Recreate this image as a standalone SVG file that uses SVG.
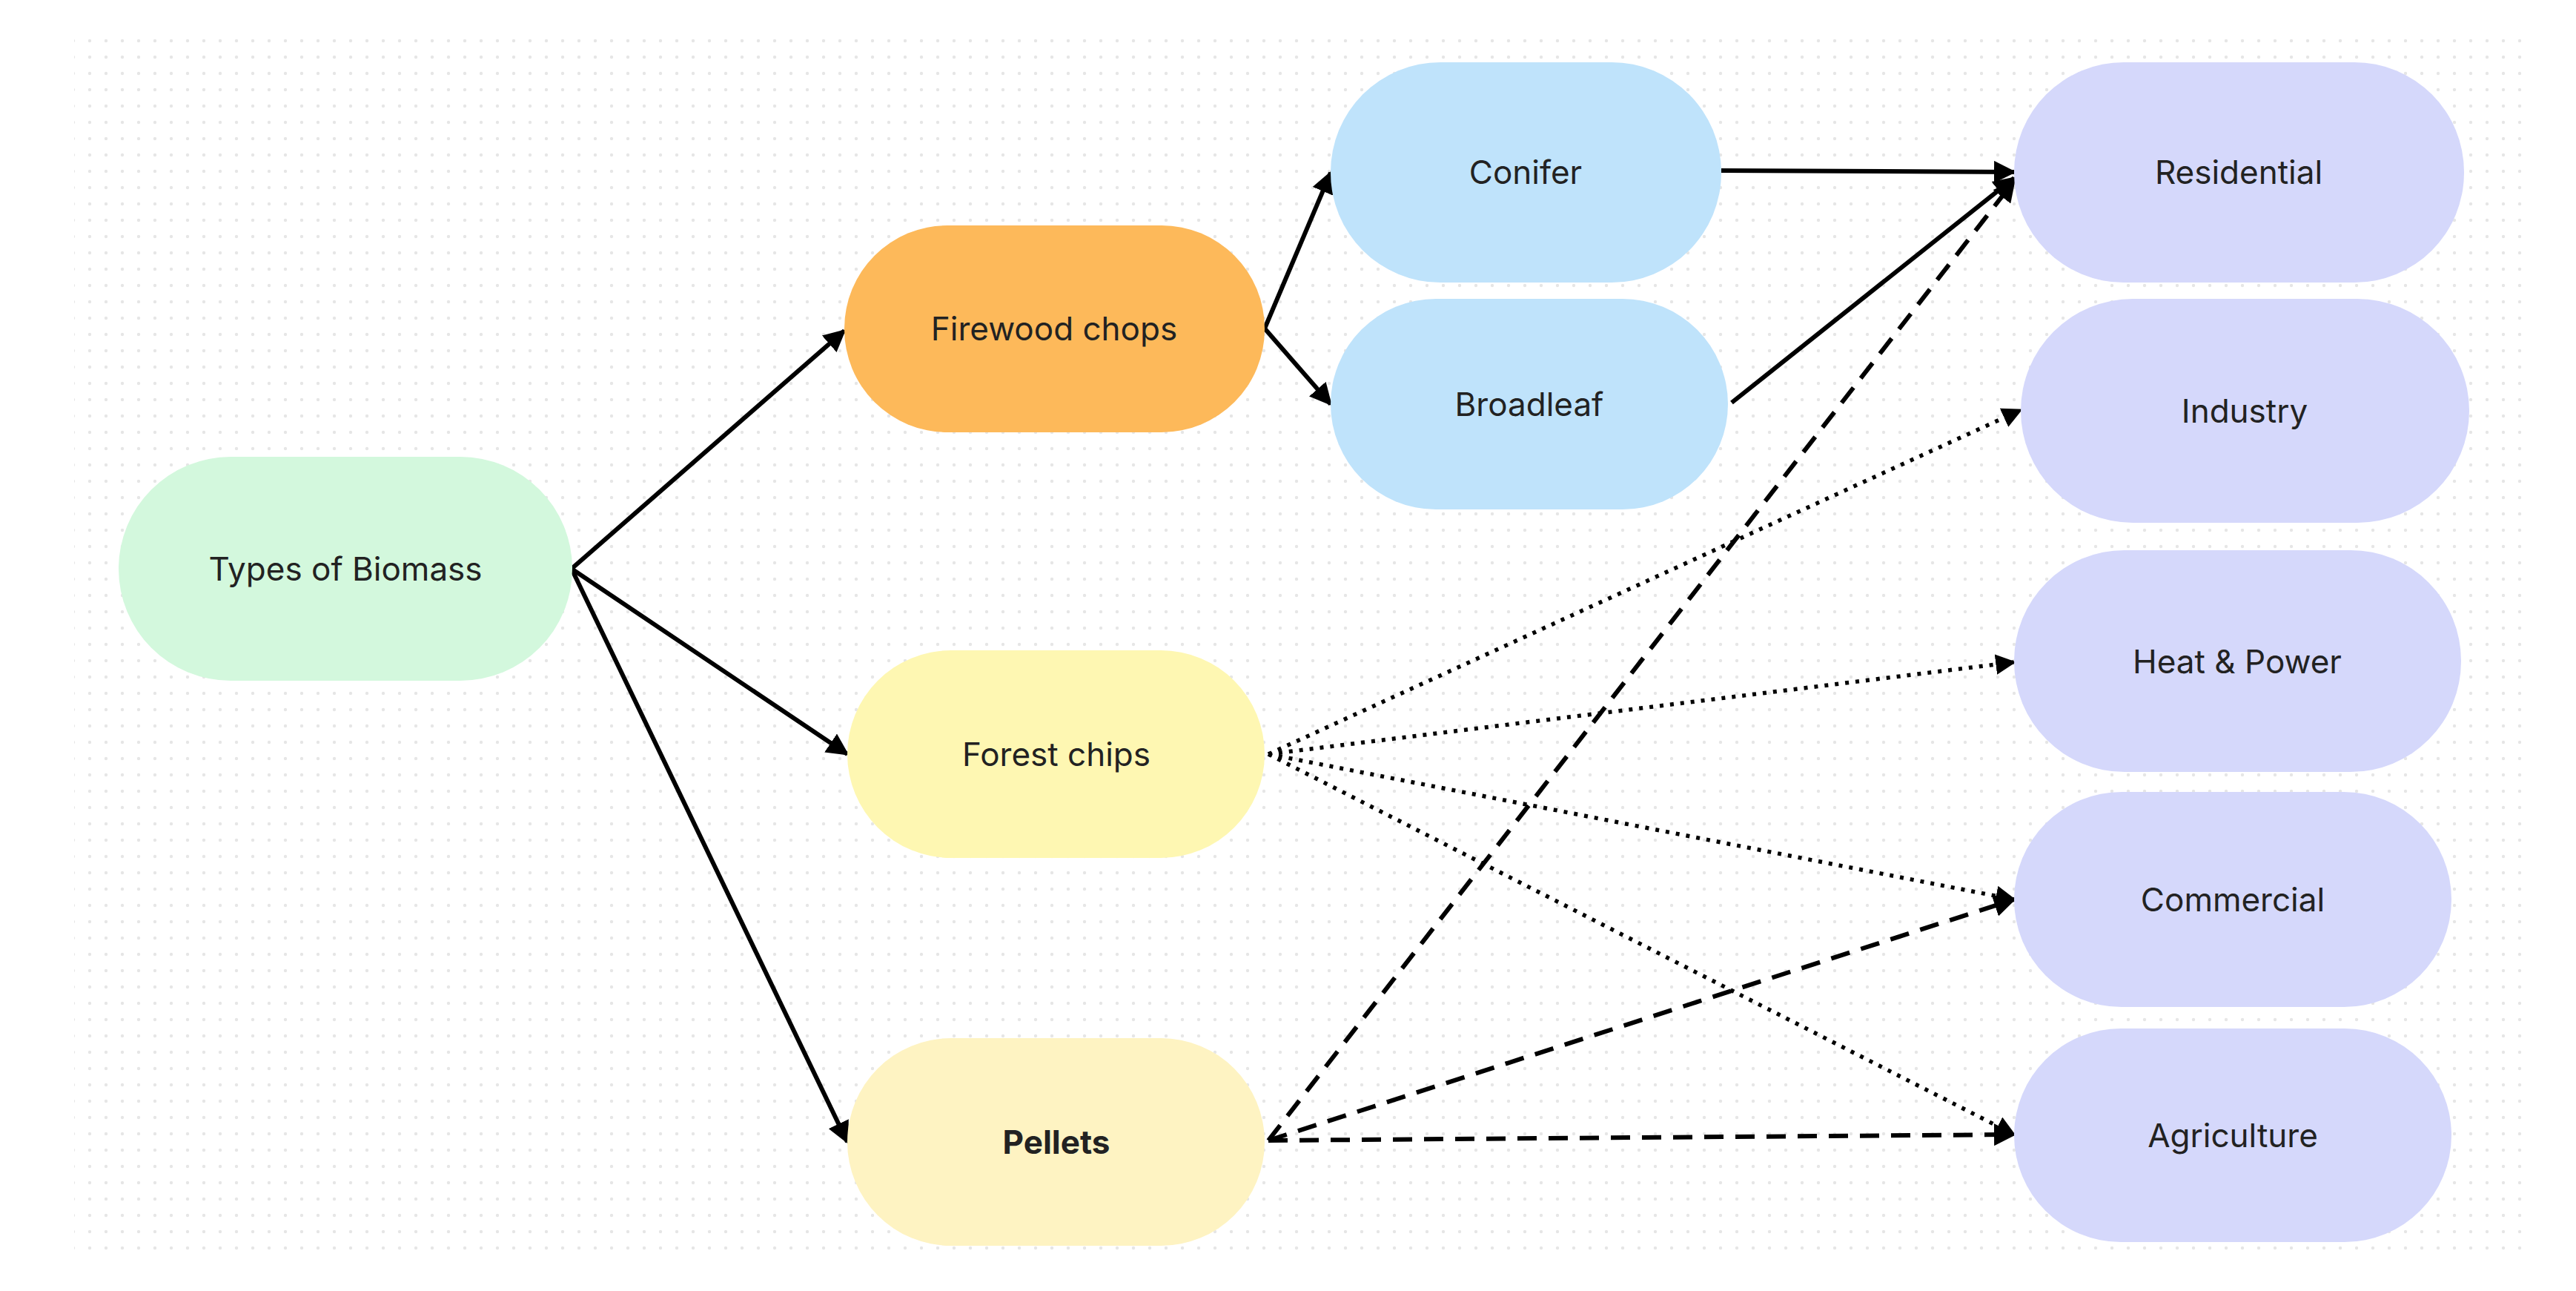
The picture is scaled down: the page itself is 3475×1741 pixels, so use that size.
<svg xmlns="http://www.w3.org/2000/svg" width="3475" height="1741" viewBox="0 0 3475 1741">
<defs>
<pattern id="dots" width="22" height="22" patternUnits="userSpaceOnUse"><circle cx="11" cy="11" r="2.2" fill="#e6e6e6"/></pattern>
<marker id="ah" viewBox="0 0 10 10" refX="9" refY="5" markerWidth="5" markerHeight="5" orient="auto" markerUnits="strokeWidth"><path d="M0,0 L10,5 L0,10 z" fill="#000"/></marker>
<style>
.n text{font-family:Inter,"Liberation Sans",sans-serif;font-size:44px;fill:#222;text-anchor:middle;dominant-baseline:central}
.e{stroke:#000;stroke-width:6;fill:none;marker-end:url(#ah)}
.dash{stroke-dasharray:26 16}
.dot{stroke-dasharray:5 9;stroke-width:5.5}
</style>
</defs>
<rect width="3475" height="1741" fill="#fff"/>
<rect x="100" y="49" width="3302" height="1646" fill="url(#dots)"/>
<g id="connectors">
<line class="e" x1="771" y1="767" x2="1139" y2="446"/>
<line class="e" x1="771" y1="767" x2="1143" y2="1017"/>
<line class="e" x1="771" y1="767" x2="1143" y2="1540"/>
<line class="e" x1="1706" y1="443" x2="1795" y2="233"/>
<line class="e" x1="1706" y1="443" x2="1795" y2="545"/>
<line class="e" x1="2322" y1="230" x2="2717" y2="232"/>
<line class="e" x1="2336" y1="543" x2="2717" y2="240"/>
<line class="e dash" x1="1711" y1="1538" x2="2717" y2="244"/>
<line class="e dash" x1="1711" y1="1538" x2="2717" y2="1213"/>
<line class="e dash" x1="1711" y1="1538" x2="2717" y2="1530"/>
<line class="e dot" x1="1711" y1="1017" x2="2726" y2="553"/>
<line class="e dot" x1="1711" y1="1017" x2="2717" y2="893"/>
<line class="e dot" x1="1711" y1="1017" x2="2717" y2="1213"/>
<line class="e dot" x1="1711" y1="1017" x2="2717" y2="1530"/>
</g>
<g id="types" class="n"><rect x="160" y="616" width="612" height="302" rx="151" fill="#d3f8dd"/><text x="466" y="767">Types of Biomass</text></g>
<g id="firewood" class="n"><rect x="1139" y="304" width="567" height="279" rx="139" fill="#fdb95a"/><text x="1422" y="443">Firewood chops</text></g>
<g id="forest" class="n"><rect x="1143" y="877" width="563" height="280" rx="140" fill="#fef7b2"/><text x="1425" y="1017">Forest chips</text></g>
<g id="pellets" class="n"><rect x="1143" y="1400" width="563" height="280" rx="140" fill="#fef3c2"/><text x="1425" y="1540" font-weight="bold">Pellets</text></g>
<g id="conifer" class="n"><rect x="1795" y="84" width="527" height="297" rx="148" fill="#bfe3fb"/><text x="2058" y="232">Conifer</text></g>
<g id="broadleaf" class="n"><rect x="1795" y="403" width="536" height="284" rx="142" fill="#bfe3fb"/><text x="2063" y="545">Broadleaf</text></g>
<g id="residential" class="n"><rect x="2717" y="84" width="607" height="297" rx="148" fill="#d5d8fb"/><text x="3020" y="232">Residential</text></g>
<g id="industry" class="n"><rect x="2726" y="403" width="605" height="302" rx="151" fill="#d5d8fb"/><text x="3028" y="554">Industry</text></g>
<g id="heat" class="n"><rect x="2717" y="742" width="603" height="299" rx="149" fill="#d5d8fb"/><text x="3018" y="892">Heat &amp; Power</text></g>
<g id="commercial" class="n"><rect x="2717" y="1068" width="590" height="290" rx="145" fill="#d5d8fb"/><text x="3012" y="1213">Commercial</text></g>
<g id="agriculture" class="n"><rect x="2717" y="1387" width="590" height="288" rx="144" fill="#d5d8fb"/><text x="3012" y="1531">Agriculture</text></g>
</svg>
